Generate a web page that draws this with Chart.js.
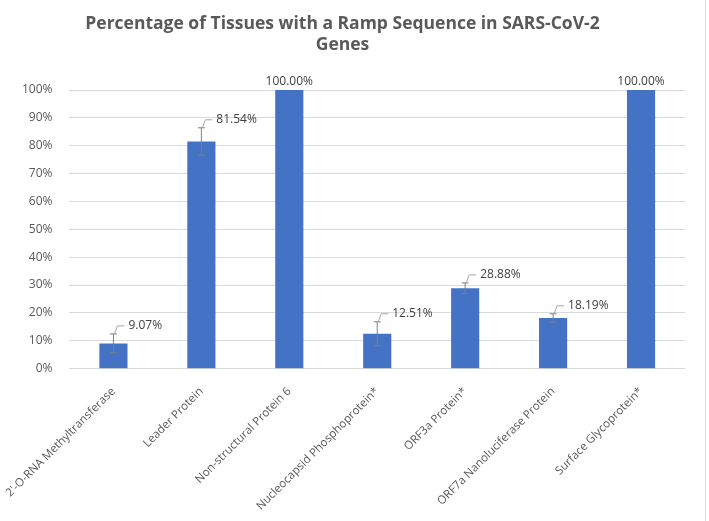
<!DOCTYPE html>
<html>
<head>
<meta charset="utf-8">
<script src="https://cdn.jsdelivr.net/npm/chart.js@4"></script>
<style>
  html, body { margin: 0; padding: 0; background: #fff; }
  #wrap { width: 705px; height: 521px; border-right: 1px solid #d9d9d9; }
</style>
</head>
<body>
<div id="wrap"><canvas id="graph" width="705" height="521"></canvas></div>
<script>
  const categories = [
    "2'-O-RNA Methyltransferase",
    'Leader Protein',
    'Non-structural Protein 6',
    'Nucleocapsid Phosphoprotein*',
    'ORF3a Protein*',
    'ORF7a Nanoluciferase Protein',
    'Surface Glycoprotein*'
  ];
  const values = [9.07, 81.54, 100, 12.51, 28.88, 18.19, 100];
  const errors = [3.4, 4.9, 0, 4.3, 1.9, 1.5, 0];
  const yTicks = [0, 10, 20, 30, 40, 50, 60, 70, 80, 90, 100];

  Chart.defaults.font.family = '"Open Sans", Arial, sans-serif';
  Chart.defaults.color = '#595959';

  // error bars + data labels with leader lines
  const barExtras = {
    id: 'barExtras',
    afterDatasetsDraw(chart) {
      const c = chart.ctx;
      const y = chart.scales.y;
      const meta = chart.getDatasetMeta(0);
      c.save();
      meta.data.forEach(function (bar, i) {
        const v = values[i], e = errors[i];
        const cx = bar.x;
        c.font = '12px "Open Sans", Arial, sans-serif';
        c.fillStyle = '#404040';
        const txt = v.toFixed(2) + '%';
        if (e > 0) {
          const top = y.getPixelForValue(v + e);
          const bot = y.getPixelForValue(v - e);
          c.strokeStyle = '#7f7f7f';
          c.lineWidth = 1;
          c.beginPath();
          c.moveTo(cx, top); c.lineTo(cx, bot);
          c.moveTo(cx - 3.5, top); c.lineTo(cx + 3.5, top);
          c.moveTo(cx - 3.5, bot); c.lineTo(cx + 3.5, bot);
          c.stroke();
          c.strokeStyle = '#a6a6a6';
          c.beginPath();
          c.moveTo(cx + 1, top);
          c.lineTo(cx + 4, top - 8);
          c.lineTo(cx + 11, top - 8);
          c.stroke();
          c.textAlign = 'left';
          c.textBaseline = 'middle';
          c.fillText(txt, cx + 15, top - 8);
        } else {
          c.textAlign = 'center';
          c.textBaseline = 'bottom';
          c.fillText(txt, cx, y.getPixelForValue(v) - 2);
        }
      });
      c.restore();
    }
  };

  new Chart(document.getElementById('graph'), {
    type: 'bar',
    data: {
      labels: categories,
      datasets: [{
        data: values,
        backgroundColor: '#4472c4',
        barPercentage: 0.64,
        categoryPercentage: 0.5
      }]
    },
    options: {
      responsive: false,
      animation: false,
      layout: { padding: { left: 0, right: 20, top: 0, bottom: 0 } },
      plugins: {
        legend: { display: false },
        tooltip: { enabled: false },
        title: {
          display: true,
          text: ['Percentage of Tissues with a Ramp Sequence in SARS-CoV-2', 'Genes'],
          color: '#595959',
          font: { size: 17.5, weight: 'bold' },
          lineHeight: 1.38,
          padding: { top: 14, bottom: 34 }
        }
      },
      scales: {
        x: {
          grid: { display: false },
          border: { display: false },
          afterFit: function (s) {
            s.paddingLeft = Math.max(0, s.paddingLeft - 5);
          },
          ticks: {
            autoSkip: false,
            maxRotation: 45,
            minRotation: 45,
            color: '#595959',
            font: { size: 11.5 },
            padding: 8
          }
        },
        y: {
          min: 0,
          max: 100,
          afterBuildTicks: function (axis) {
            axis.ticks = yTicks.map(v => ({ value: v }));
          },
          grid: { color: '#d9d9d9', drawTicks: false },
          border: { display: false },
          ticks: {
            color: '#595959',
            font: { size: 12 },
            padding: 17,
            callback: v => v + '%'
          }
        }
      }
    },
    plugins: [barExtras]
  });
</script>
</body>
</html>
